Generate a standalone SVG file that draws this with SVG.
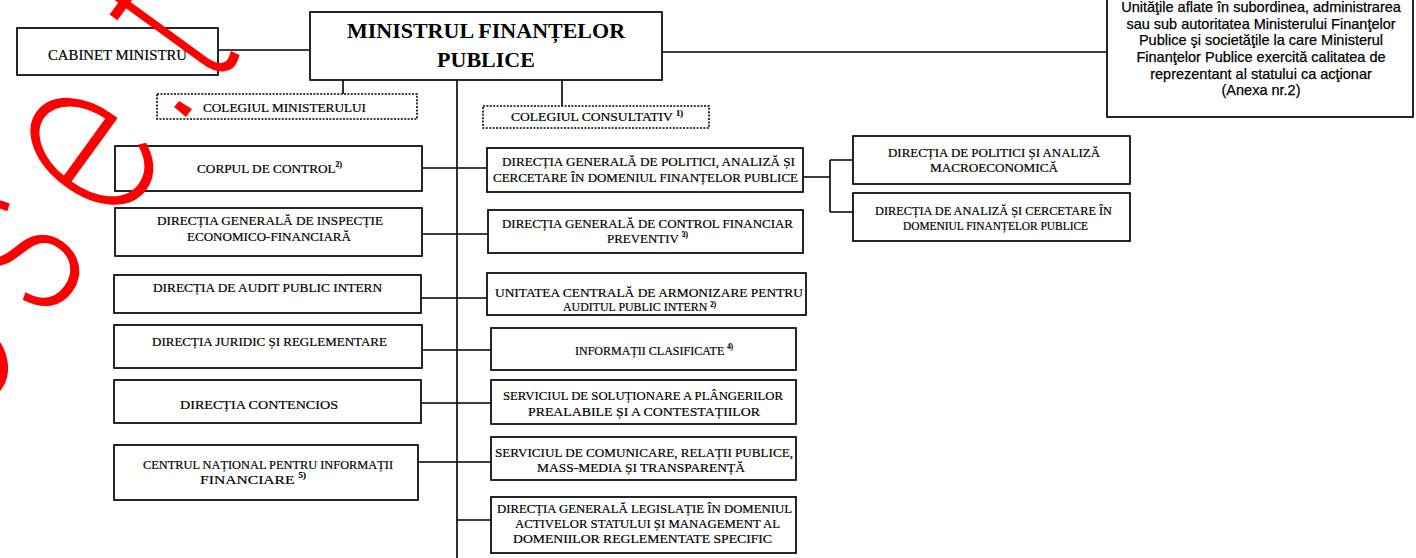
<svg xmlns="http://www.w3.org/2000/svg" width="1416" height="558" viewBox="0 0 1416 558">
<style>
.box{fill:#fff;stroke:#000;stroke-width:1.7}
.dot{fill:none;stroke:#000;stroke-width:1.6;stroke-dasharray:2 1.4}
.ln{fill:none;stroke:#000;stroke-width:1.6}
.t{font-family:"Liberation Serif","Times New Roman",serif;font-size:13px;fill:#000;stroke:#000;stroke-width:0.2}
.tr{font-family:"Liberation Serif","Times New Roman",serif;font-size:12px;fill:#000;stroke:#000;stroke-width:0.2}
.big{font-family:"Liberation Serif","Times New Roman",serif;font-size:22px;font-weight:bold;fill:#000;text-anchor:middle}
.sup{font-size:7.5px;font-weight:bold}
.s{font-family:"Liberation Sans",Arial,sans-serif;font-size:14.5px;fill:#000;stroke:#000;stroke-width:0.25;text-anchor:middle}
.wm{font-family:Inter,"DejaVu Sans",sans-serif;font-weight:100;font-size:230px;fill:#ff0000;stroke:#ff0000;stroke-width:4.5}
</style>
<rect width="1416" height="558" fill="#fff"/>
<g id="connectors">
<path class="ln" d="M218 50H310M343 80V94M562 80V106M662 52H1107M457 80V558"/>
<path class="ln" d="M422 168H487M422 234H488M421 298H487M422 350H491M421 403H491M418 462H491M457 520H491"/>
<path class="ln" d="M803 177H830M830 160V212M830 160H853M830 212H853"/>
</g>
<g id="n-main"><rect class="box" x="310" y="12" width="352" height="68"/>
<text class="big" x="486" y="38">MINISTRUL FINANȚELOR</text><text class="big" x="486" y="67">PUBLICE</text></g>
<g id="n-cabinet"><rect class="box" x="17" y="28" width="201" height="47"/>
<text class="t" x="48" y="60" textLength="139" lengthAdjust="spacingAndGlyphs" style="font-size:15px">CABINET MINISTRU</text></g>
<g id="n-colmin"><rect class="dot" x="157" y="94" width="260" height="25"/>
<text class="t" x="203" y="112" textLength="163" lengthAdjust="spacingAndGlyphs" style="font-size:12px">COLEGIUL MINISTERULUI</text></g>
<g id="n-colcons"><rect class="dot" x="483" y="106" width="226" height="22"/>
<text class="t" x="511" y="121" textLength="172" lengthAdjust="spacingAndGlyphs" style="font-size:12px">COLEGIUL CONSULTATIV <tspan class="sup" dy="-5">1)</tspan></text></g>
<g id="n-unitati"><rect class="box" x="1107" y="-3" width="306" height="120"/>
<text class="s" x="1261" y="12">Unităţile aflate în subordinea, administrarea</text>
<text class="s" x="1261" y="28.7">sau sub autoritatea Ministerului Finanţelor</text>
<text class="s" x="1261" y="45.3">Publice şi societăţile la care Ministerul</text>
<text class="s" x="1261" y="62">Finanţelor Publice exercită calitatea de</text>
<text class="s" x="1261" y="78.7">reprezentant al statului ca acţionar</text>
<text class="s" x="1261" y="95.3">(Anexa nr.2)</text></g>
<g id="n-corp"><rect class="box" x="115" y="146" width="307" height="45"/>
<text class="t" x="197" y="173" textLength="145" lengthAdjust="spacingAndGlyphs">CORPUL DE CONTROL<tspan class="sup" dy="-6">2)</tspan></text></g>
<g id="n-inspectie"><rect class="box" x="115" y="208" width="307" height="48"/>
<text class="t" x="157" y="225" textLength="226" lengthAdjust="spacingAndGlyphs">DIRECȚIA GENERALĂ DE INSPECȚIE</text>
<text class="t" x="187" y="241" textLength="164" lengthAdjust="spacingAndGlyphs">ECONOMICO-FINANCIARĂ</text></g>
<g id="n-audit"><rect class="box" x="114" y="275" width="307" height="38"/>
<text class="t" x="153" y="292" textLength="229" lengthAdjust="spacingAndGlyphs">DIRECȚIA DE AUDIT PUBLIC INTERN</text></g>
<g id="n-juridic"><rect class="box" x="114" y="325" width="308" height="43"/>
<text class="t" x="152" y="346" textLength="235" lengthAdjust="spacingAndGlyphs">DIRECȚIA JURIDIC ȘI REGLEMENTARE</text></g>
<g id="n-contencios"><rect class="box" x="114" y="380" width="307" height="43"/>
<text class="t" x="180" y="409" textLength="158" lengthAdjust="spacingAndGlyphs">DIRECȚIA CONTENCIOS</text></g>
<g id="n-cnif"><rect class="box" x="114" y="445" width="304" height="55"/>
<text class="t" x="143" y="469" textLength="250" lengthAdjust="spacingAndGlyphs">CENTRUL NAȚIONAL PENTRU INFORMAȚII</text>
<text class="t" x="200" y="484" textLength="106" lengthAdjust="spacingAndGlyphs">FINANCIARE <tspan class="sup" dy="-6">5)</tspan></text></g>
<g id="n-politici"><rect class="box" x="487" y="148" width="316" height="44"/>
<text class="t" x="502" y="166" textLength="293" lengthAdjust="spacingAndGlyphs">DIRECȚIA GENERALĂ DE POLITICI, ANALIZĂ ȘI</text>
<text class="t" x="493" y="182" textLength="305" lengthAdjust="spacingAndGlyphs">CERCETARE ÎN DOMENIUL FINANȚELOR PUBLICE</text></g>
<g id="n-cfp"><rect class="box" x="488" y="210" width="315" height="43"/>
<text class="t" x="502" y="228" textLength="291" lengthAdjust="spacingAndGlyphs">DIRECȚIA GENERALĂ DE CONTROL FINANCIAR</text>
<text class="t" x="607" y="243" textLength="81" lengthAdjust="spacingAndGlyphs">PREVENTIV <tspan class="sup" dy="-6">3)</tspan></text></g>
<g id="n-ucaapi"><rect class="box" x="487" y="273" width="319" height="42"/>
<text class="t" x="495" y="297" textLength="308" lengthAdjust="spacingAndGlyphs">UNITATEA CENTRALĂ DE ARMONIZARE PENTRU</text>
<text class="t" x="563" y="311" textLength="153" lengthAdjust="spacingAndGlyphs">AUDITUL PUBLIC INTERN <tspan class="sup" dy="-4">2)</tspan></text></g>
<g id="n-info"><rect class="box" x="491" y="328" width="305" height="42"/>
<text class="t" x="575" y="355" textLength="158" lengthAdjust="spacingAndGlyphs">INFORMAȚII CLASIFICATE <tspan class="sup" dy="-6">4)</tspan></text></g>
<g id="n-plangeri"><rect class="box" x="491" y="380" width="305" height="44"/>
<text class="t" x="503" y="400" textLength="280" lengthAdjust="spacingAndGlyphs">SERVICIUL DE SOLUȚIONARE A PLÂNGERILOR</text>
<text class="t" x="528" y="416" textLength="232" lengthAdjust="spacingAndGlyphs">PREALABILE ȘI A CONTESTAȚIILOR</text></g>
<g id="n-comunicare"><rect class="box" x="491" y="437" width="305" height="43"/>
<text class="t" x="495" y="457" textLength="298" lengthAdjust="spacingAndGlyphs">SERVICIUL DE COMUNICARE, RELAȚII PUBLICE,</text>
<text class="t" x="537" y="472" textLength="208" lengthAdjust="spacingAndGlyphs">MASS-MEDIA ȘI TRANSPARENȚĂ</text></g>
<g id="n-legislatie"><rect class="box" x="491" y="497" width="305" height="56"/>
<text class="t" x="497" y="513" textLength="295" lengthAdjust="spacingAndGlyphs">DIRECȚIA GENERALĂ LEGISLAȚIE ÎN DOMENIUL</text>
<text class="t" x="515" y="528" textLength="265" lengthAdjust="spacingAndGlyphs">ACTIVELOR STATULUI ȘI MANAGEMENT AL</text>
<text class="t" x="513" y="543" textLength="259" lengthAdjust="spacingAndGlyphs">DOMENIILOR REGLEMENTATE SPECIFIC</text></g>
<g id="n-macro"><rect class="box" x="853" y="136" width="277" height="48"/>
<text class="tr" x="888" y="157" textLength="212" lengthAdjust="spacingAndGlyphs">DIRECȚIA DE POLITICI ȘI ANALIZĂ</text>
<text class="tr" x="930" y="172" textLength="128" lengthAdjust="spacingAndGlyphs">MACROECONOMICĂ</text></g>
<g id="n-cercetare"><rect class="box" x="853" y="193" width="277" height="48"/>
<text class="tr" x="875" y="215" textLength="237" lengthAdjust="spacingAndGlyphs">DIRECȚIA DE ANALIZĂ ȘI CERCETARE ÎN</text>
<text class="tr" x="903" y="230" textLength="185" lengthAdjust="spacingAndGlyphs">DOMENIUL FINANȚELOR PUBLICE</text></g>
<g id="watermark">
<polygon points="179,101 192,109 186,117 174,107" fill="#ff0000"/>
<text class="wm" transform="rotate(-54) scale(0.8,1)" x="-606 -462 -299 -153 67" y="225">Reset</text>
</g>
</svg>
